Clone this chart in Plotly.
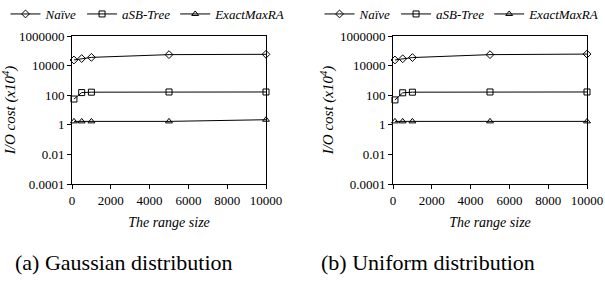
import plotly.graph_objects as go

range_sizes = [100, 500, 1000, 5000, 10000]

gauss_naive = [24000, 30000, 36000, 55000, 58000]
gauss_asb = [55, 150, 160, 165, 165]
gauss_exact = [1.7, 1.7, 1.7, 1.7, 2.2]

unif_naive = [24000, 29000, 35000, 55000, 60000]
unif_asb = [48, 145, 160, 165, 165]
unif_exact = [1.7, 1.7, 1.7, 1.7, 1.7]

series_names = ["Naïve", "aSB-Tree", "ExactMaxRA"]
symbols = ["diamond-open", "square-open", "triangle-up-open"]

y_tickvals = [0.0001, 0.01, 1, 100, 10000, 1000000]
y_ticktext = ["0.0001", "0.01", "1", "100", "10000", "1000000"]
x_tickvals = [0, 2000, 4000, 6000, 8000, 10000]
x_ticktext = ["0", "2000", "4000", "6000", "8000", "10000"]

captions = ["(a) Gaussian distribution", "(b) Uniform distribution"]

FONT = "Liberation Serif"
W, H = 605, 286

fig = go.Figure()

panels = [
    (gauss_naive, gauss_asb, gauss_exact, "x", "y", "legend"),
    (unif_naive, unif_asb, unif_exact, "x2", "y2", "legend2"),
]
for naive, asb, exact, xa, ya, lg in panels:
    for name, vals, sym in zip(series_names, [naive, asb, exact], symbols):
        fig.add_trace(go.Scatter(
            x=range_sizes, y=vals, name=name, mode="lines+markers",
            line=dict(color="black", width=1),
            marker=dict(symbol=sym, size=6, color="black", line=dict(width=1, color="black")),
            xaxis=xa, yaxis=ya, legend=lg, cliponaxis=False,
        ))

def px_x(p):
    return p / W

def px_y(p):
    return 1 - p / H

ydom = [px_y(184), px_y(36)]
axis_common = dict(
    showline=True, linecolor="black", linewidth=1, mirror=True,
    ticks="outside", ticklen=4, tickcolor="black", showgrid=False, zeroline=False,
    tickfont=dict(family=FONT, size=13, color="black"),
)

fig.update_layout(
    width=W, height=H, margin=dict(l=0, r=0, t=0, b=0, autoexpand=False),
    plot_bgcolor="white", paper_bgcolor="white",
    font=dict(family=FONT, color="black"),
    xaxis=dict(domain=[px_x(72), px_x(266)], range=[0, 10000], tickvals=x_tickvals, ticktext=x_ticktext,
               anchor="y", title=dict(text="<i>The range size</i>", font=dict(family=FONT, size=14), standoff=10),
               **axis_common),
    yaxis=dict(domain=ydom, type="log", range=[-4, 6], tickvals=y_tickvals, ticktext=y_ticktext, anchor="x",
               title=dict(text="<i>I/O cost (x10<sup>4</sup>)</i>", font=dict(family=FONT, size=15), standoff=2),
               **axis_common),
    xaxis2=dict(domain=[px_x(393), px_x(587)], range=[0, 10000], tickvals=x_tickvals, ticktext=x_ticktext,
                anchor="y2", title=dict(text="<i>The range size</i>", font=dict(family=FONT, size=14), standoff=10),
                **axis_common),
    yaxis2=dict(domain=ydom, type="log", range=[-4, 6], tickvals=y_tickvals, ticktext=y_ticktext, anchor="x2",
                title=dict(text="<i>I/O cost (x10<sup>4</sup>)</i>", font=dict(family=FONT, size=15), standoff=2),
                **axis_common),
    legend=dict(orientation="h", x=px_x(148), xanchor="center", y=px_y(14), yanchor="middle",
                font=dict(family=FONT, size=13, style="italic", color="black"), itemwidth=30,
                bgcolor="rgba(0,0,0,0)"),
    legend2=dict(orientation="h", x=px_x(462), xanchor="center", y=px_y(14), yanchor="middle",
                 font=dict(family=FONT, size=13, style="italic", color="black"), itemwidth=30,
                 bgcolor="rgba(0,0,0,0)"),
    showlegend=True,
)

for text, cx in zip(captions, [124, 428]):
    fig.add_annotation(text=text, x=px_x(cx), y=px_y(262), xref="paper", yref="paper",
                       xanchor="center", yanchor="middle", showarrow=False,
                       font=dict(family=FONT, size=22, color="black"))

fig.write_html("out.html", config={"displayModeBar": False},
               post_script="document.body.style.margin='0';document.body.style.overflow='hidden';")
